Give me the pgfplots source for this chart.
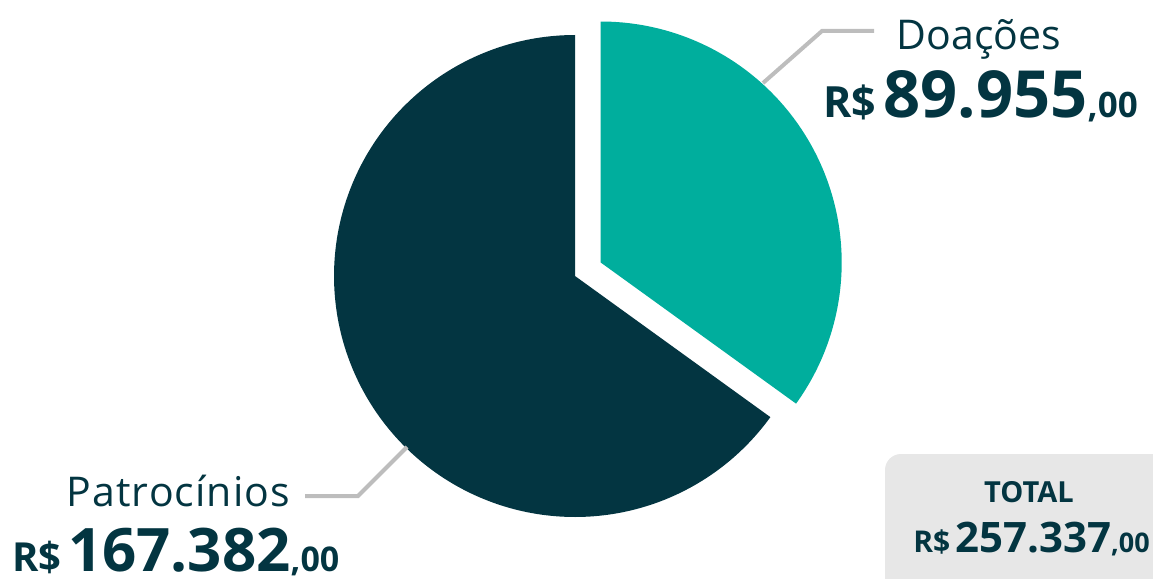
\documentclass[border=0pt]{standalone}
\usepackage{pgfplots}
\pgfplotsset{compat=1.18}
\usepackage{fontspec}
\setmainfont{Open Sans}
\definecolor{dark}{HTML}{033541}
\definecolor{teal}{HTML}{00AE9D}
\definecolor{lead}{HTML}{BDBDBD}
\definecolor{boxg}{HTML}{E7E7E7}
\begin{document}
\begin{tikzpicture}
% values in thousands of R$
\pgfmathsetmacro\vD{89.955}
\pgfmathsetmacro\vP{167.382}
\pgfmathsetmacro\fracD{\vD/(\vD+\vP)}
\pgfmathsetmacro\angD{360*\fracD}
\pgfmathsetmacro\split{450-\angD}
\pgfmathsetmacro\splitm{\split-360}
\begin{axis}[name=ax,
  x=1pt, y=1pt, xmin=0, xmax=1153, ymin=0, ymax=578,
  y dir=reverse, hide axis, clip=false]
% total box
\fill[boxg, rounded corners=16pt] (axis cs:885,454) rectangle (axis cs:1175,600);
% Patrocinios slice
\addplot[fill=dark, draw=none, domain=90:\split, samples=200, variable=\t]
  ({575+241*cos(\t)}, {276-241*sin(\t)}) -- (axis cs:575,276) -- cycle;
% Doacoes slice (exploded)
\addplot[fill=teal, draw=none, domain=\splitm:90, samples=150, variable=\t]
  ({600.7+241*cos(\t)}, {262.5-241*sin(\t)}) -- (axis cs:600.7,262.5) -- cycle;
% leader lines
\addplot[lead, line width=4pt] coordinates {(763,83) (822,31) (874,31)};
\addplot[lead, line width=4pt] coordinates {(305,496) (358,496) (407,447)};
% labels
\node[anchor=base, text=dark, inner sep=0] at (axis cs:979,50)
  {\fontsize{41}{41}\selectfont Doações};
\node[anchor=base east, text=dark, inner sep=0] at (axis cs:1138,117)
  {\bfseries\fontsize{43}{43}\selectfont R\$\,\fontsize{65}{65}\selectfont 89.955\fontsize{35}{35}\selectfont,00};
\node[anchor=base east, text=dark, inner sep=0] at (axis cs:290,506)
  {\fontsize{41}{41}\selectfont P\kern1pt a\kern1pt t\kern1pt r\kern1pt o\kern1pt c\kern1pt í\kern1pt n\kern1pt i\kern1pt o\kern1pt s};
\node[anchor=base west, text=dark, inner sep=0] at (axis cs:12,571)
  {\bfseries\fontsize{40}{40}\selectfont R\$\,\fontsize{60}{60}\selectfont 167.382\fontsize{34}{34}\selectfont,00};
\node[anchor=base, text=dark, inner sep=0] at (axis cs:1029,502)
  {\bfseries\fontsize{29}{29}\selectfont TOTAL};
\node[anchor=base east, text=dark, inner sep=0] at (axis cs:1150,552)
  {\bfseries\fontsize{30}{30}\selectfont R\$\,\fontsize{42}{42}\selectfont 257.337\fontsize{27}{27}\selectfont,00};
\end{axis}
\pgfresetboundingbox
\path[use as bounding box] (ax.south west) rectangle (ax.north east);
\end{tikzpicture}
\end{document}
